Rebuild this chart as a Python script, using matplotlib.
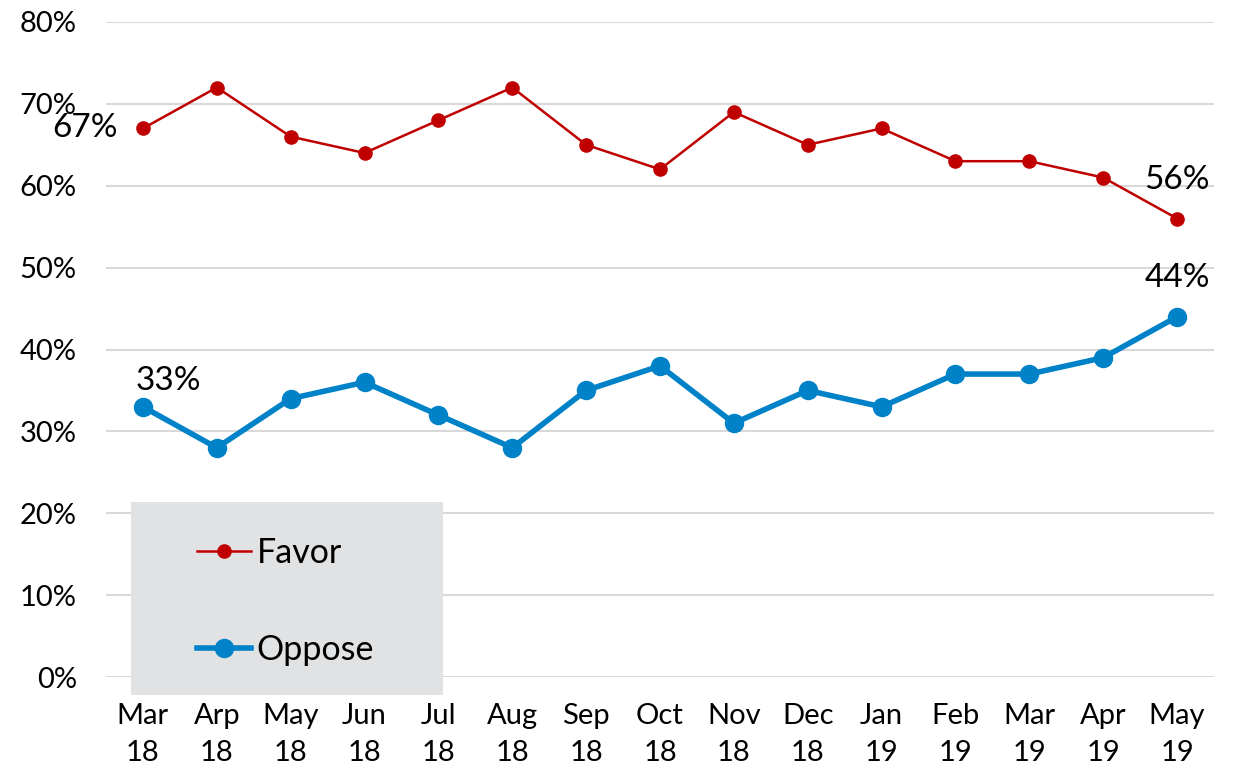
import matplotlib
matplotlib.use("Agg")
import matplotlib.pyplot as plt
from matplotlib.lines import Line2D
from matplotlib.patches import Rectangle

plt.rcParams['font.family'] = ['Lato', 'DejaVu Sans']

categories = ["Mar\n18", "Arp\n18", "May\n18", "Jun\n18", "Jul\n18", "Aug\n18", "Sep\n18",
              "Oct\n18", "Nov\n18", "Dec\n18", "Jan\n19", "Feb\n19", "Mar\n19", "Apr\n19", "May\n19"]
favor = [67, 72, 66, 64, 68, 72, 65, 62, 69, 65, 67, 63, 63, 61, 56]
oppose = [33, 28, 34, 36, 32, 28, 35, 38, 31, 35, 33, 37, 37, 39, 44]
yticks = [0, 10, 20, 30, 40, 50, 60, 70, 80]

red = "#C00000"
blue = "#0082C8"

fig = plt.figure(figsize=(12.37, 7.70), dpi=100)
ax = fig.add_axes([106/1237, 93/770, 1108/1237, 655/770])
x = list(range(len(categories)))

ax.set_xlim(-0.5, len(categories) - 0.5)
ax.set_ylim(0, 80)
ax.set_yticks(yticks)
ax.set_yticklabels([f"{v}%" for v in yticks], fontsize=21)
ax.set_xticks(x)
ax.set_xticklabels(categories, fontsize=21, linespacing=1.5)
ax.tick_params(axis='x', length=0, pad=19)
ax.tick_params(axis='y', length=0, pad=21)
for s in ax.spines.values():
    s.set_visible(False)
ax.grid(axis='y', color="#D9D9D9", linewidth=1.5)
ax.set_axisbelow(True)

ax.plot(x, favor, color=red, linewidth=1.8, marker='o', markersize=9.5, zorder=3, clip_on=False)
ax.plot(x, oppose, color=blue, linewidth=4, marker='o', markersize=13, zorder=3, clip_on=False)

# data labels
ax.annotate(f"{favor[0]}%", (x[0], favor[0]), xytext=(-18, 0), textcoords='offset points',
            ha='right', va='center', fontsize=24)
ax.annotate(f"{oppose[0]}%", (x[0], oppose[0]), xytext=(18, 8), textcoords='offset points',
            ha='center', va='bottom', fontsize=24)
ax.annotate(f"{favor[-1]}%", (x[-1], favor[-1]), xytext=(0, 17), textcoords='offset points',
            ha='center', va='bottom', fontsize=24)
ax.annotate(f"{oppose[-1]}%", (x[-1], oppose[-1]), xytext=(0, 17), textcoords='offset points',
            ha='center', va='bottom', fontsize=24)

# legend box
fig.patches.append(Rectangle((131/1237, (770-695)/770), 312/1237, 193/770,
                             transform=fig.transFigure, facecolor="#E1E2E4",
                             edgecolor='none', zorder=5))
handles = [Line2D([], [], color=red, linewidth=1.8, marker='o', markersize=9.5),
           Line2D([], [], color=blue, linewidth=4, marker='o', markersize=13)]
leg = fig.legend(handles, ["Favor", "Oppose"], loc='upper left',
                 bbox_to_anchor=(197/1237, (770-537)/770), frameon=False,
                 fontsize=24.5, handlelength=1.6, handletextpad=0.15,
                 labelspacing=1.9, borderaxespad=0, borderpad=0)
leg.set_zorder(6)

fig.savefig("out.png", dpi=100)
